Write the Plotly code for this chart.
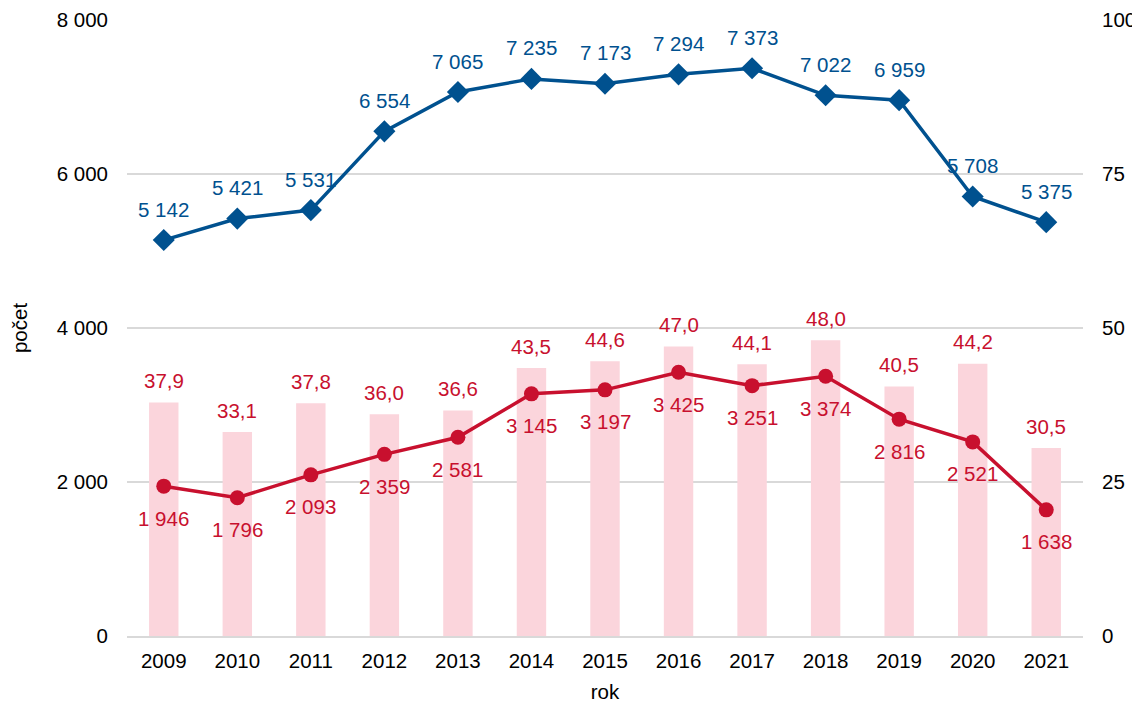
import plotly.graph_objects as go

years = [2009, 2010, 2011, 2012, 2013, 2014, 2015, 2016, 2017, 2018, 2019, 2020, 2021]
blue_vals = [5142, 5421, 5531, 6554, 7065, 7235, 7173, 7294, 7373, 7022, 6959, 5708, 5375]
red_vals = [1946, 1796, 2093, 2359, 2581, 3145, 3197, 3425, 3251, 3374, 2816, 2521, 1638]
bar_vals = [37.9, 33.1, 37.8, 36.0, 36.6, 43.5, 44.6, 47.0, 44.1, 48.0, 40.5, 44.2, 30.5]
left_ticks = [0, 2000, 4000, 6000, 8000]
right_ticks = [0, 25, 50, 75, 100]

BLUE = "#00518F"
RED = "#C8102E"
PINK = "#FBD5DC"
GRID = "#D9D9D9"
FONT = "Liberation Sans, Arial, sans-serif"
FS = 20.5

def fmt_int(v):
    return f"{v:,}".replace(",", " ")

def fmt_dec(v):
    return f"{v:.1f}".replace(".", ",")

fig = go.Figure()
fig.add_trace(go.Bar(x=years, y=bar_vals, marker=dict(color=PINK, line=dict(width=0)),
                     width=0.4, yaxis="y", hoverinfo="skip", showlegend=False))
fig.add_trace(go.Scatter(x=years, y=blue_vals, mode="lines+markers", yaxis="y2",
                         line=dict(color=BLUE, width=3.5),
                         marker=dict(symbol="diamond", size=17, color=BLUE),
                         showlegend=False, cliponaxis=False))
fig.add_trace(go.Scatter(x=years, y=red_vals, mode="lines+markers", yaxis="y2",
                         line=dict(color=RED, width=3.5),
                         marker=dict(symbol="circle", size=15, color=RED),
                         showlegend=False, cliponaxis=False))

ann = []
for x, v in zip(years, bar_vals):
    ann.append(dict(x=x, y=v, xref="x", yref="y", text=fmt_dec(v), showarrow=False,
                    yshift=22, font=dict(color=RED, size=FS, family=FONT)))
for x, v in zip(years, blue_vals):
    ann.append(dict(x=x, y=v, xref="x", yref="y2", text=fmt_int(v), showarrow=False,
                    yshift=31, font=dict(color=BLUE, size=FS, family=FONT)))
for x, v in zip(years, red_vals):
    ann.append(dict(x=x, y=v, xref="x", yref="y2", text=fmt_int(v), showarrow=False,
                    yshift=-32, font=dict(color=RED, size=FS, family=FONT)))

fig.update_layout(
    width=1132, height=699,
    margin=dict(l=119, r=57, t=12, b=71),
    paper_bgcolor="white", plot_bgcolor="white",
    font=dict(family=FONT, size=FS, color="black"),
    annotations=ann,
    xaxis=dict(range=[years[0] - 0.5, years[-1] + 0.5], tickvals=years,
               ticktext=[str(y) for y in years], showgrid=False, zeroline=False,
               showline=True, linecolor=GRID, linewidth=1.5, automargin=False,
               ticks="", tickfont=dict(size=FS), ticklabelstandoff=6,
               title=dict(text="rok", font=dict(size=FS), standoff=13)),
    yaxis=dict(side="right", range=[0, 100], tickvals=right_ticks, showgrid=True,
               gridcolor=GRID, gridwidth=1.5, zeroline=False, ticks="", automargin=False,
               tickfont=dict(size=FS), ticklabelstandoff=18),
    yaxis2=dict(side="left", overlaying="y", range=[0, 8000], tickvals=left_ticks,
                ticktext=[fmt_int(t) for t in left_ticks], showgrid=False, zeroline=False,
                ticks="", tickfont=dict(size=FS), ticklabelstandoff=18, automargin=False,
                title=dict(text="počet", font=dict(size=FS), standoff=33)),
)

fig.write_html("out.html")
